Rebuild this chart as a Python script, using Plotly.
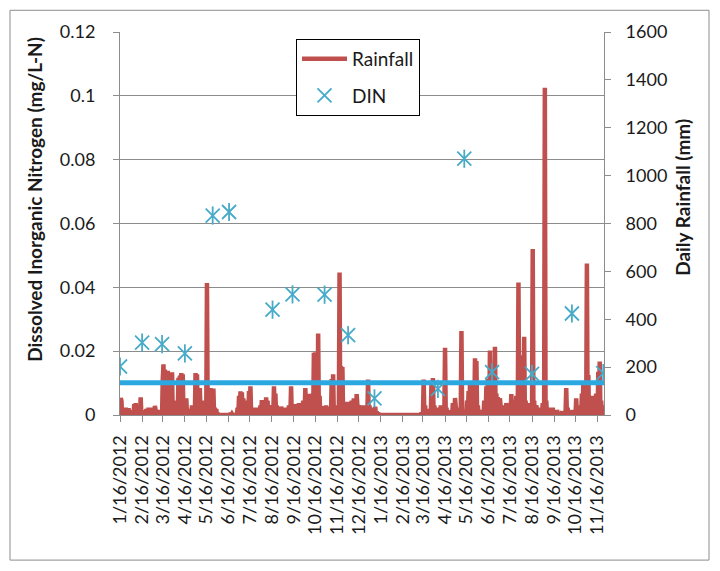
import pandas as pd
import plotly.graph_objects as go

# ——— daily rainfall (mm); days not listed had no rain ———
rain_dates = [
    "2012-01-16", "2012-01-17", "2012-01-18", "2012-01-20", "2012-01-22", "2012-01-24",
    "2012-01-26", "2012-01-28", "2012-01-30", "2012-02-02", "2012-02-05", "2012-02-07",
    "2012-02-09", "2012-02-12", "2012-02-14", "2012-02-16", "2012-02-19", "2012-02-22",
    "2012-02-25", "2012-02-28", "2012-03-02", "2012-03-05", "2012-03-08", "2012-03-11",
    "2012-03-14", "2012-03-16", "2012-03-17", "2012-03-19", "2012-03-21", "2012-03-23",
    "2012-03-25", "2012-03-27", "2012-03-29", "2012-03-31", "2012-04-02", "2012-04-05",
    "2012-04-07", "2012-04-09", "2012-04-11", "2012-04-13", "2012-04-15", "2012-04-18",
    "2012-04-20", "2012-04-23", "2012-04-26", "2012-04-29", "2012-05-01", "2012-05-03",
    "2012-05-05", "2012-05-07", "2012-05-09", "2012-05-12", "2012-05-15", "2012-05-17",
    "2012-05-19", "2012-05-22", "2012-05-24", "2012-05-26", "2012-05-28", "2012-05-30",
    "2012-06-01", "2012-06-19", "2012-06-21", "2012-06-29", "2012-07-01", "2012-07-03",
    "2012-07-05", "2012-07-07", "2012-07-09", "2012-07-11", "2012-07-13", "2012-07-15",
    "2012-07-17", "2012-07-19", "2012-07-22", "2012-07-25", "2012-07-28", "2012-07-31",
    "2012-08-02", "2012-08-05", "2012-08-08", "2012-08-10", "2012-08-12", "2012-08-15",
    "2012-08-19", "2012-08-21", "2012-08-23", "2012-08-26", "2012-08-29", "2012-09-01",
    "2012-09-04", "2012-09-07", "2012-09-09", "2012-09-12", "2012-09-14", "2012-09-17",
    "2012-09-20", "2012-09-23", "2012-09-26", "2012-09-29", "2012-10-02", "2012-10-04",
    "2012-10-06", "2012-10-08", "2012-10-10", "2012-10-12", "2012-10-14", "2012-10-16",
    "2012-10-18", "2012-10-20", "2012-10-22", "2012-10-25", "2012-10-27", "2012-10-29",
    "2012-10-31", "2012-11-03", "2012-11-06", "2012-11-08", "2012-11-10", "2012-11-12",
    "2012-11-15", "2012-11-17", "2012-11-19", "2012-11-21", "2012-11-23", "2012-11-25",
    "2012-11-27", "2012-11-30", "2012-12-03", "2012-12-06", "2012-12-09", "2012-12-11",
    "2012-12-13", "2012-12-16", "2012-12-19", "2012-12-22", "2012-12-25", "2012-12-27",
    "2012-12-29", "2012-12-31", "2013-01-02", "2013-01-05", "2013-01-08", "2013-01-10",
    "2013-01-12",
    "2013-03-14", "2013-03-17", "2013-03-19", "2013-03-22", "2013-03-25", "2013-03-28",
    "2013-03-30", "2013-04-01", "2013-04-04", "2013-04-07", "2013-04-10", "2013-04-13",
    "2013-04-16", "2013-04-18", "2013-04-21", "2013-04-24", "2013-04-27", "2013-04-30",
    "2013-05-03", "2013-05-06", "2013-05-09", "2013-05-11", "2013-05-14", "2013-05-17",
    "2013-05-19", "2013-05-21", "2013-05-23", "2013-05-25", "2013-05-28", "2013-05-30",
    "2013-06-01", "2013-06-04", "2013-06-07", "2013-06-10", "2013-06-13", "2013-06-15",
    "2013-06-18", "2013-06-20", "2013-06-22", "2013-06-25", "2013-06-27", "2013-06-29",
    "2013-07-02", "2013-07-05", "2013-07-08", "2013-07-11", "2013-07-14", "2013-07-18",
    "2013-07-20", "2013-07-22", "2013-07-25", "2013-07-28", "2013-07-30", "2013-08-01",
    "2013-08-03", "2013-08-05", "2013-08-07", "2013-08-10", "2013-08-13", "2013-08-17",
    "2013-08-19", "2013-08-22", "2013-08-25", "2013-08-28", "2013-08-31", "2013-09-03",
    "2013-09-05", "2013-09-08", "2013-09-11", "2013-09-14", "2013-09-17", "2013-09-20",
    "2013-09-23", "2013-09-26", "2013-09-29", "2013-10-03", "2013-10-05", "2013-10-08",
    "2013-10-11", "2013-10-14", "2013-10-17", "2013-10-19", "2013-10-22", "2013-10-25",
    "2013-10-27", "2013-10-29", "2013-11-01", "2013-11-03", "2013-11-05", "2013-11-08",
    "2013-11-11", "2013-11-14", "2013-11-17", "2013-11-19", "2013-11-21", "2013-11-23",
    "2013-11-25",
]
rain_mm = [
    20, 71, 60, 15, 25, 30,
    12, 28, 10, 20, 45, 50,
    15, 35, 74, 20, 8, 25,
    30, 15, 30, 38, 20, 10,
    20, 150, 212, 190, 180, 185,
    60, 175, 178, 60, 20, 40,
    155, 165, 175, 170, 30, 70,
    25, 15, 40, 30, 175, 170,
    40, 113, 60, 30, 60, 551,
    100, 113, 90, 110, 30, 25,
    8, 8, 5, 30, 80, 99,
    95, 70, 60, 40, 55, 100,
    120, 30, 15, 30, 20, 40,
    62, 30, 74, 60, 40, 20,
    120, 90, 40, 25, 35, 20,
    30, 10, 40, 120, 30, 45,
    20, 50, 30, 60, 113, 50,
    80, 88, 60, 90, 260, 262,
    150, 340, 80, 30, 37, 20,
    40, 35, 30, 150, 170, 40,
    10, 20, 595, 205, 200, 40,
    50, 55, 40, 60, 70, 65,
    87, 40, 25, 40, 20, 30,
    148, 40, 30, 20, 35, 15,
    10,
    10, 148, 40, 15, 25, 140,
    154, 40, 30, 20, 40, 15,
    281, 30, 10, 20, 50, 71,
    20, 30, 351, 20, 15, 60,
    100, 128, 140, 130, 237, 225,
    40, 20, 15, 60, 120, 150,
    269, 200, 150, 285, 90, 75,
    70, 40, 30, 50, 40, 87,
    60, 30, 80, 553, 100, 120,
    250, 327, 60, 50, 30, 693,
    60, 40, 30, 20, 50, 1367,
    60, 30, 20, 30, 10, 20,
    10, 5, 15, 113, 30, 15,
    20, 10, 70, 40, 20, 90,
    130, 100, 633, 167, 75, 80,
    70, 90, 180, 223, 60, 40,
    20,
]

# ——— DIN samples (mg/L-N) ———
din_dates = [
    "2012-01-16", "2012-02-16", "2012-03-15", "2012-04-16", "2012-05-25", "2012-06-17",
    "2012-08-17", "2012-09-14", "2012-10-29", "2012-12-01", "2013-01-07", "2013-04-06",
    "2013-05-13", "2013-06-21", "2013-08-16", "2013-10-11", "2013-11-24",
]
din_vals = [
    0.0152, 0.0227, 0.0222, 0.0193, 0.0625, 0.0636,
    0.0330, 0.0378, 0.0377, 0.0250, 0.0052, 0.0082,
    0.0803, 0.0134, 0.0129, 0.0318, 0.0131,
]
din_threshold = 0.0101

x_start, x_end = "2012-01-16", "2013-11-25"
month_ticks = [
    "2012-01-16", "2012-02-16", "2012-03-16", "2012-04-16", "2012-05-16", "2012-06-16",
    "2012-07-16", "2012-08-16", "2012-09-16", "2012-10-16", "2012-11-16", "2012-12-16",
    "2013-01-16", "2013-02-16", "2013-03-16", "2013-04-16", "2013-05-16", "2013-06-16",
    "2013-07-16", "2013-08-16", "2013-09-16", "2013-10-16", "2013-11-16",
]
month_labels = [
    "1/16/2012", "2/16/2012", "3/16/2012", "4/16/2012", "5/16/2012", "6/16/2012",
    "7/16/2012", "8/16/2012", "9/16/2012", "10/16/2012", "11/16/2012", "12/16/2012",
    "1/16/2013", "2/16/2013", "3/16/2013", "4/16/2013", "5/16/2013", "6/16/2013",
    "7/16/2013", "8/16/2013", "9/16/2013", "10/16/2013", "11/16/2013",
]
din_ticks = [0, 0.02, 0.04, 0.06, 0.08, 0.1, 0.12]
din_labels = ["0", "0.02", "0.04", "0.06", "0.08", "0.1", "0.12"]
rain_ticks = [0, 200, 400, 600, 800, 1000, 1200, 1400, 1600]

RED = "#C0504D"
AQUA = "#46AAC8"
BLUE = "#2BA8E0"
GRID = "#8C8C8C"
TXT = "#1a1a1a"
FONT = "Lato"

# the page body has an 8px margin, so the figure is drawn 16px smaller
W, H = 704, 555
PL, PT, PW, PH = 112, 19, 484, 388


def px(sx):
    # screen x -> paper x
    return (sx - 8 - PL) / PW


def py(sy):
    # screen y -> paper y
    return (PT + PH - (sy - 8)) / PH


# fill the days without rain
days = pd.date_range(x_start, x_end, freq="D")
rain = pd.Series(rain_mm, index=pd.to_datetime(rain_dates)).reindex(days, fill_value=0)

fig = go.Figure()

# rainfall sits on the base axis (right side) so the DIN traces draw on top
fig.add_trace(go.Scatter(
    x=rain.index, y=rain.values, name="Rainfall", mode="lines",
    line=dict(color=RED, width=4.5), yaxis="y", legendgroup="a",
))
fig.add_trace(go.Scatter(
    x=[x_start, x_end], y=[din_threshold, din_threshold], mode="lines",
    line=dict(color=BLUE, width=5), yaxis="y2", showlegend=False, hoverinfo="skip",
))
fig.add_trace(go.Scatter(
    x=din_dates, y=din_vals, name="DIN", mode="markers", yaxis="y2", legendgroup="b",
    marker=dict(symbol="x-thin-open", size=14, color=AQUA, line=dict(color=AQUA, width=1.8)),
))
fig.add_trace(go.Scatter(
    x=din_dates, y=din_vals, mode="markers", yaxis="y2", showlegend=False, legendgroup="b",
    marker=dict(symbol="line-ns-open", size=13, color=AQUA, line=dict(color=AQUA, width=1.8)),
))

fig.update_layout(
    width=W, height=H,
    margin=dict(l=PL, r=W - PL - PW, t=PT, b=H - PT - PH, pad=0),
    paper_bgcolor="white", plot_bgcolor="white",
    font=dict(family=FONT, size=18, color=TXT),
    showlegend=True,
    legend=dict(
        x=px(296), y=py(34), xanchor="left", yanchor="top",
        bordercolor="black", borderwidth=1, bgcolor="white",
        font=dict(family=FONT, size=19, color=TXT),
        tracegroupgap=9, itemwidth=45, entrywidth=91,
    ),
    xaxis=dict(
        type="date", range=[x_start, x_end],
        tickmode="array", tickvals=month_ticks, ticktext=month_labels,
        tickangle=-90, ticks="outside", ticklen=6, tickcolor=GRID,
        showline=True, linecolor=GRID, linewidth=1, showgrid=False,
        ticklabelstandoff=6,
    ),
    yaxis=dict(
        side="right", range=[0, 1600], tickmode="array", tickvals=rain_ticks,
        ticks="outside", ticklen=6, tickcolor=GRID,
        showline=True, linecolor=GRID, showgrid=False, zeroline=False,
        ticklabelstandoff=11,
    ),
    yaxis2=dict(
        side="left", overlaying="y", range=[0, 0.12],
        tickmode="array", tickvals=din_ticks, ticktext=din_labels,
        ticks="outside", ticklen=6, tickcolor=GRID,
        showline=True, linecolor=GRID, showgrid=True, gridcolor=GRID, gridwidth=1,
        zeroline=False, ticklabelstandoff=14,
    ),
    annotations=[
        dict(text="<b>Dissolved Inorganic Nitrogen (mg/L-N)</b>", textangle=-90,
             xref="paper", yref="paper", x=px(35), y=py(197),
             xanchor="center", yanchor="middle",
             showarrow=False, font=dict(family=FONT, size=19, color=TXT)),
        dict(text="<b>Daily Rainfall (mm)</b>", textangle=-90,
             xref="paper", yref="paper", x=px(683), y=py(195),
             xanchor="center", yanchor="middle",
             showarrow=False, font=dict(family=FONT, size=19, color=TXT)),
    ],
    shapes=[
        dict(type="rect", xref="paper", yref="paper",
             x0=px(10), x1=px(709), y0=py(562), y1=py(5),
             line=dict(color=GRID, width=1), fillcolor="rgba(0,0,0,0)", layer="below"),
    ],
)

fig.write_html("out.html")
